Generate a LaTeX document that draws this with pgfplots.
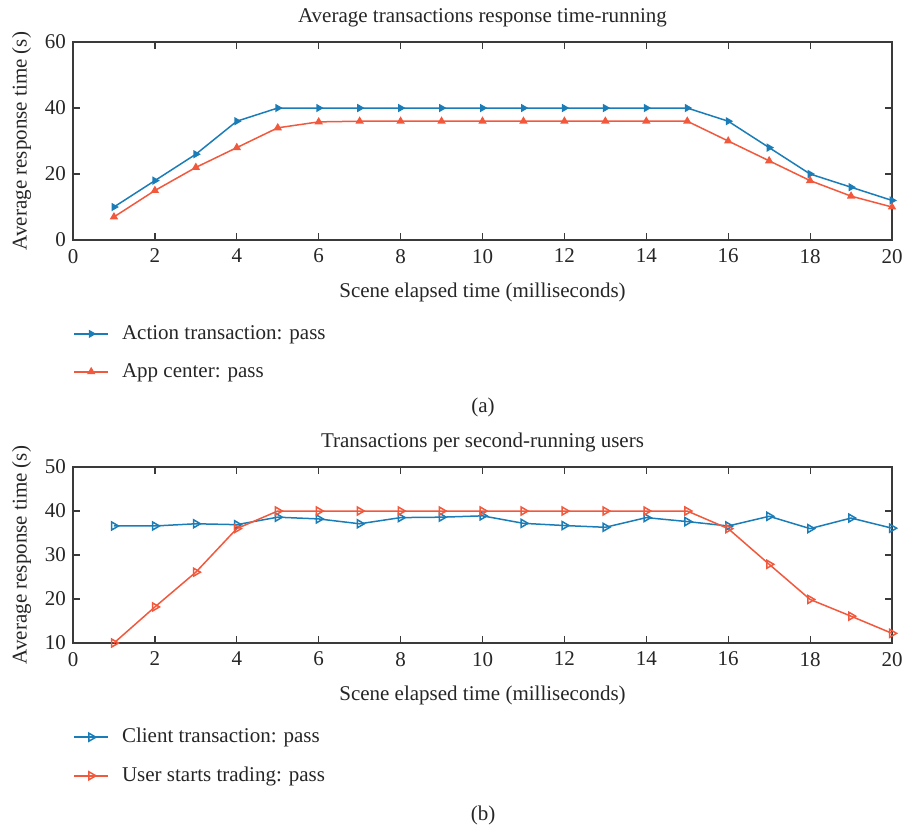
\documentclass[border=0pt]{standalone}
\usepackage{fontspec}
\setmainfont{Liberation Serif}
\usepackage{pgfplots}
\pgfplotsset{compat=1.18}

\definecolor{cblue}{HTML}{1A7DB8}
\definecolor{cred}{HTML}{F2583C}
\definecolor{axgray}{HTML}{3A3A3A}
\newcommand{\fs}{\fontsize{10.5}{12.6}\selectfont}

\pgfplotsset{
  chart/.style={
    scale only axis, width=409.5pt,
    xmin=0, xmax=20, xtick={0,2,...,20},
    tick align=inside, major tick length=3.5pt,
    axis line style={axgray, line width=0.7pt},
    tick style={axgray, line width=0.6pt},
    /pgf/number format/assume math mode=true,
    ticklabel style={font=\fs, text=black!85},
    xticklabel style={yshift=-1pt},
    label style={font=\fs, text=black!85},
    xlabel style={yshift=-3pt},
    title style={font=\fs, text=black!85, yshift=-2pt},
    xlabel={Scene elapsed time (milliseconds)},
    ylabel={Average response time (s)},
    legend cell align=left,
    legend style={draw=none, fill=none, font=\fs, text=black!85,
      at={(0,0)}, anchor=north west, yshift=-40.5pt,
      inner sep=0pt, row sep=6.5pt, column sep=4.5pt},
    every axis plot/.append style={line width=0.75pt},
  },
}

\begin{document}
\begin{tikzpicture}[x=1pt,y=1pt]
\useasboundingbox (0,0) rectangle (451.5,-413);

\begin{axis}[chart, at={(36.5pt,-120pt)}, anchor=south west, height=99pt,
  ymin=0, ymax=60, ytick={0,20,40,60},
  title={Average transactions response time-running}]
\addplot[cblue, mark=triangle*, mark size=1.7pt, mark options={rotate=-90}]
  coordinates {(1,10) (2,18) (3,26) (4,36) (5,40) (6,40) (7,40) (8,40) (9,40) (10,40)
    (11,40) (12,40) (13,40) (14,40) (15,40) (16,36) (17,28) (18,20) (19,16) (20,12)};
\addlegendentry{Action transaction: pass}
\addplot[cred, mark=triangle*, mark size=1.7pt]
  coordinates {(1,7) (2,15) (3,22) (4,28) (5,34) (6,35.8) (7,36) (8,36) (9,36) (10,36)
    (11,36) (12,36) (13,36) (14,36) (15,36) (16,30) (17,24) (18,18) (19,13.3) (20,10)};
\addlegendentry{App center: pass}
\end{axis}

\begin{axis}[chart, at={(36.5pt,-321.5pt)}, anchor=south west, height=88pt,
  ymin=10, ymax=50, ytick={10,20,30,40,50},
  title={Transactions per second-running users}]
\addplot[cblue, mark=triangle, mark size=2.3pt, mark options={rotate=-90}]
  coordinates {(1,36.6) (2,36.6) (3,37.1) (4,36.9) (5,38.6) (6,38.2) (7,37.1) (8,38.5)
    (9,38.6) (10,38.9) (11,37.2) (12,36.7) (13,36.3) (14,38.5) (15,37.6) (16,36.6)
    (17,38.8) (18,36.0) (19,38.4) (20,36.1)};
\addlegendentry{Client transaction: pass}
\addplot[cred, mark=triangle, mark size=2.3pt, mark options={rotate=-90}]
  coordinates {(1,10) (2,18.2) (3,26.1) (4,36) (5,40) (6,40) (7,40) (8,40) (9,40)
    (10,40) (11,40) (12,40) (13,40) (14,40) (15,40) (16,36) (17,27.9) (18,19.9)
    (19,16.1) (20,12.2)};
\addlegendentry{User starts trading: pass}
\end{axis}

\node[font=\fs, text=black!85] at (241.5,-203.5) {(a)};
\node[font=\fs, text=black!85] at (241.5,-407.5) {(b)};
\end{tikzpicture}
\end{document}
